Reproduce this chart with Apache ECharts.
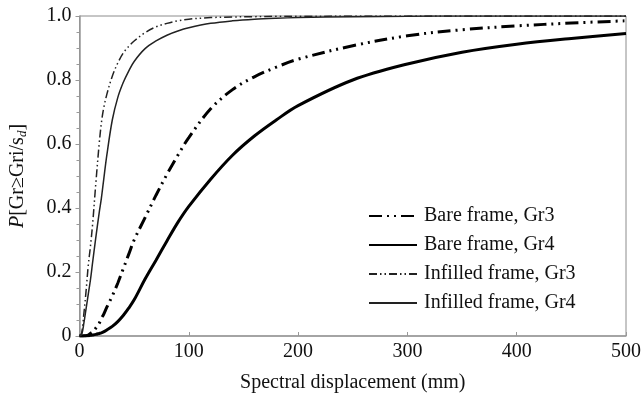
<!DOCTYPE html>
<html>
<head>
<meta charset="utf-8">
<script src="https://cdn.jsdelivr.net/npm/echarts@6/dist/echarts.min.js"></script>
<style>
  html, body { margin: 0; padding: 0; background: #fff; }
  #chart { width: 644px; height: 398px; }
</style>
</head>
<body>
<div id="chart"></div>
<script>
// spectral displacement (mm)
var dispMm = [0, 2, 4, 6, 8, 10, 12, 15, 18, 20, 22, 25, 30, 35, 40, 45, 50, 60, 70, 80, 90, 100, 120, 140, 160, 180, 200, 250, 300, 350, 400, 450, 500]

// exceedance probabilities
var bareGr3 = [0, 0, 0.0005, 0.001, 0.003, 0.008, 0.012, 0.025, 0.04, 0.055, 0.067, 0.09, 0.125, 0.165, 0.21, 0.255, 0.3, 0.37, 0.44, 0.505, 0.565, 0.62, 0.71, 0.77, 0.81, 0.84, 0.865, 0.907, 0.938, 0.957, 0.969, 0.978, 0.985]
var bareGr4 = [0, 0, 0, 0.0005, 0.001, 0.002, 0.003, 0.005, 0.008, 0.01, 0.013, 0.019, 0.03, 0.045, 0.064, 0.087, 0.113, 0.178, 0.237, 0.297, 0.355, 0.405, 0.49, 0.565, 0.625, 0.675, 0.72, 0.8, 0.85, 0.887, 0.912, 0.93, 0.945]
var infilledGr3 = [0, 0.01, 0.07, 0.14, 0.22, 0.28, 0.35, 0.48, 0.6, 0.665, 0.71, 0.755, 0.812, 0.853, 0.884, 0.905, 0.922, 0.948, 0.966, 0.977, 0.985, 0.99, 0.995, 0.997, 0.998, 0.999, 0.999, 1, 1, 1, 1, 1, 1]
var infilledGr4 = [0, 0.005, 0.04, 0.085, 0.13, 0.175, 0.23, 0.31, 0.385, 0.43, 0.485, 0.565, 0.675, 0.745, 0.792, 0.828, 0.858, 0.898, 0.922, 0.94, 0.953, 0.963, 0.977, 0.985, 0.99, 0.993, 0.995, 0.998, 0.999, 1, 1, 1, 1]

var seriesNames = ['Bare frame, Gr3', 'Bare frame, Gr4', 'Infilled frame, Gr3', 'Infilled frame, Gr4']
var xTicks = [0, 100, 200, 300, 400, 500]
var yTicks = [0, 0.2, 0.4, 0.6, 0.8, 1.0]

var serif = '"Liberation Serif", "Times New Roman", serif'

function pairs (ys) {
  return dispMm.map(function (x, i) {
    return [x, ys[i]]
  })
}

function curve (name, ys, color, width, dash) {
  return {
    name: name,
    type: 'line',
    data: pairs(ys),
    smooth: 0.35,
    showSymbol: false,
    symbol: 'circle',
    lineStyle: { color: color, width: width, type: dash, cap: 'butt' },
    itemStyle: { color: color }
  }
}

var chart = echarts.init(document.getElementById('chart'))

chart.setOption({
  animation: false,
  backgroundColor: '#fff',
  textStyle: { fontFamily: serif },
  grid: {
    left: 74, right: 11, top: 16, bottom: 62,
    show: true, borderColor: '#8c8c8c', borderWidth: 1
  },
  legend: {
    orient: 'vertical',
    left: 363,
    top: 201,
    itemWidth: 48,
    itemHeight: 14,
    itemGap: 9,
    data: seriesNames,
    // hide the legend symbol, keep only the line sample
    itemStyle: { opacity: 0 },
    textStyle: { fontFamily: serif, fontSize: 20, color: '#111', padding: [0, 0, 0, 2] }
  },
  xAxis: {
    type: 'value',
    min: xTicks[0],
    max: xTicks[xTicks.length - 1],
    interval: 100,
    name: 'Spectral displacement (mm)',
    nameLocation: 'middle',
    nameGap: 37,
    nameTextStyle: { fontFamily: serif, fontSize: 20, color: '#111' },
    axisLine: { lineStyle: { color: '#999', width: 1.5 } },
    axisTick: { inside: true, length: 4, lineStyle: { color: '#999' } },
    axisLabel: { fontFamily: serif, fontSize: 20, color: '#111', margin: 6 },
    splitLine: { show: false }
  },
  yAxis: {
    type: 'value',
    min: yTicks[0],
    max: yTicks[yTicks.length - 1],
    interval: 0.2,
    name: '{p|P}[Gr≥Gri/s{sub|d}]',
    nameLocation: 'middle',
    nameRotate: 90,
    nameGap: 50,
    nameTextStyle: {
      fontFamily: serif, fontSize: 20, color: '#111',
      rich: {
        p: { fontFamily: serif, fontSize: 20, fontStyle: 'italic', color: '#111' },
        sub: { fontFamily: serif, fontSize: 13, fontStyle: 'italic', color: '#111', padding: [10, 0, 0, 0] }
      }
    },
    axisLine: { lineStyle: { color: '#999', width: 1.5 } },
    axisTick: { length: 4, lineStyle: { color: '#999' } },
    minorTick: { show: true, splitNumber: 4, length: 3, lineStyle: { color: '#999' } },
    axisLabel: {
      fontFamily: serif, fontSize: 20, color: '#111', margin: 8,
      formatter: function (v) {
        return v === 0 ? '0' : v.toFixed(1)
      }
    },
    splitLine: { show: false }
  },
  series: [
    curve(seriesNames[0], bareGr3, '#000', 3, [13, 5, 2, 5, 2, 5]),
    curve(seriesNames[1], bareGr4, '#000', 3, 'solid'),
    curve(seriesNames[2], infilledGr3, '#222', 1.5, [8, 3, 1.5, 3, 1.5, 3]),
    curve(seriesNames[3], infilledGr4, '#222', 1.5, 'solid')
  ]
})
</script>
</body>
</html>
